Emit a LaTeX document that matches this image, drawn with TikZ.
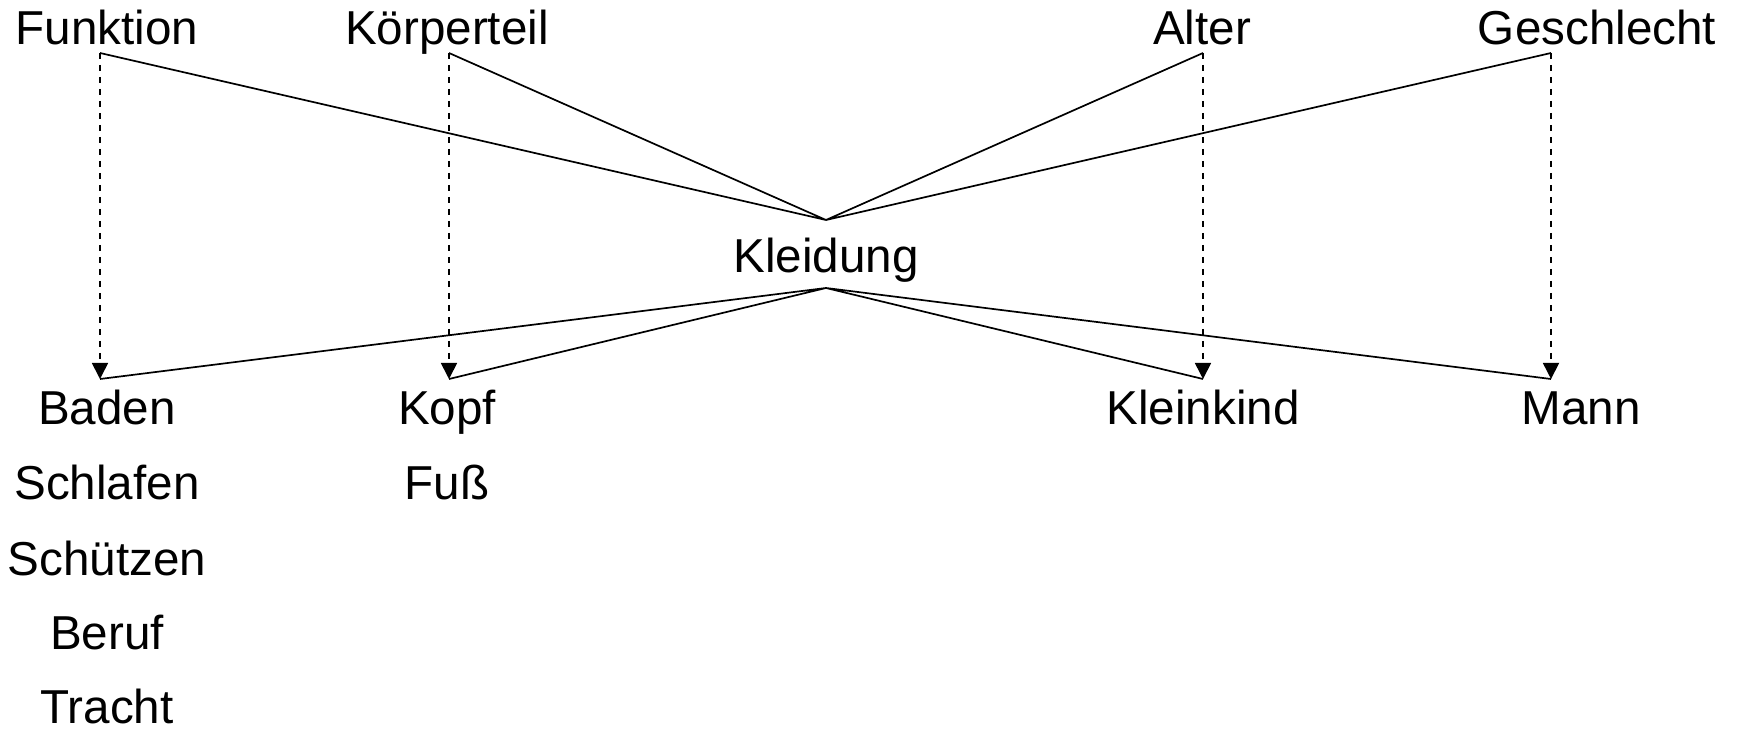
\documentclass[tikz,border=0pt]{standalone}
\usepackage{fontspec}
\setmainfont{Liberation Sans}
\usetikzlibrary{arrows.meta}
\begin{document}
\begin{tikzpicture}[x=0.5pt,y=-0.5pt,
  lbl/.style={anchor=base,inner sep=0pt,font=\fontsize{23.8}{28}\selectfont},
  link/.style={line width=0.85pt},
  dlink/.style={line width=0.85pt,dash pattern=on 3pt off 3pt,-{Triangle[length=8pt,width=8pt]}}]
\useasboundingbox (0,0) rectangle (1738,731);
% top categories
\node[lbl] (funktion) at (107,45) {Funktion};
\node[lbl] (koerperteil) at (447,45) {Körperteil};
\node[lbl] (alter) at (1202,45) {Alter};
\node[lbl] (geschlecht) at (1597,45) {Geschlecht};
% centre
\node[lbl] (kleidung) at (826,273) {Kleidung};
% bottom values
\node[lbl] (baden) at (107,425) {Baden};
\node[lbl] (schlafen) at (107,500) {Schlafen};
\node[lbl] (schuetzen) at (107,575) {Schützen};
\node[lbl] (beruf) at (107,649) {Beruf};
\node[lbl] (tracht) at (107,723) {Tracht};
\node[lbl] (kopf) at (447,425) {Kopf};
\node[lbl] (fuss) at (447,500) {Fuß};
\node[lbl] (kleinkind) at (1203,425) {Kleinkind};
\node[lbl] (mann) at (1581,425) {Mann};
% connector points
\coordinate (ft) at (100,53);
\coordinate (kt) at (449,53);
\coordinate (at) at (1203,53);
\coordinate (gt) at (1551,53);
\coordinate (fb) at (100,379);
\coordinate (kb) at (449,379);
\coordinate (ab) at (1203,379);
\coordinate (gb) at (1551,379);
\coordinate (ktop) at (826,220);
\coordinate (kbot) at (826,288);
% solid lines
\draw[link] (ft) -- (ktop) -- (kt);
\draw[link] (at) -- (ktop) -- (gt);
\draw[link] (fb) -- (kbot) -- (kb);
\draw[link] (ab) -- (kbot) -- (gb);
% dashed arrows
\draw[dlink] (ft) -- (fb);
\draw[dlink] (kt) -- (kb);
\draw[dlink] (at) -- (ab);
\draw[dlink] (gt) -- (gb);
\end{tikzpicture}
\end{document}
